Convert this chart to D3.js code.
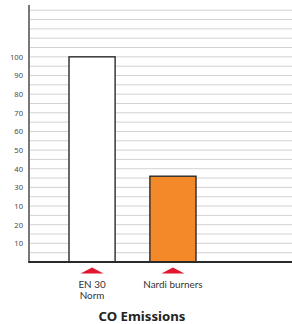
<!DOCTYPE html>
<html>
<head>
<meta charset="utf-8">
<script src="https://cdn.jsdelivr.net/npm/d3@7"></script>
<style>
  html, body { margin: 0; padding: 0; background: #fff; }
  svg { display: block; }
</style>
</head>
<body>
<svg id="chart" width="292" height="324"></svg>
<script>
// ---- data ----
const categories = ["EN 30 Norm", "Nardi burners"];
const categoryLines = [["EN 30", "Norm"], ["Nardi burners"]];
const values = [100, 36];
const barColors = ["#ffffff", "#F4892A"];
const tickValues = [100, 90, 80, 70, 60, 50, 40, 30, 20, 10, 0];
const tickLabels = ["100", "90", "80", "70", "60", "50", "40", "30", "10", "20", "10"];
const gridValues = d3.range(-5, 126, 5);
const title = "CO Emissions";

// ---- layout ----
const svg = d3.select("#chart");
const font = "'Noto Sans', 'DejaVu Sans', sans-serif";
const labelFont = "Lato, 'Noto Sans', sans-serif";
const axisX = 29, rightX = 292, baseY = 262, topY = 5;

const y = d3.scaleLinear().domain([-10, 127.8]).range([baseY, topY]);
const x = d3.scaleBand().domain(categories).range([69, 196]).paddingInner(0.43).paddingOuter(0);

// gridlines
svg.append("g").selectAll("line").data(gridValues).join("line")
  .attr("x1", axisX + 1).attr("x2", rightX)
  .attr("y1", d => y(d)).attr("y2", d => y(d))
  .attr("stroke", "#d2d2d2").attr("stroke-width", 1);

// y axis labels
const yAxis = d3.axisLeft(y).tickValues(tickValues).tickSize(0).tickPadding(0)
  .tickFormat((d, i) => tickLabels[i]);
const gy = svg.append("g").attr("transform", `translate(${axisX - 6},0)`).call(yAxis);
gy.select(".domain").remove();
gy.selectAll("text").attr("font-family", font).attr("font-size", 7.6).attr("fill", "#4a4a4a");

// bars
svg.append("g").selectAll("rect").data(values).join("rect")
  .attr("x", (d, i) => x(categories[i]))
  .attr("width", x.bandwidth())
  .attr("y", d => y(d))
  .attr("height", d => baseY - y(d))
  .attr("fill", (d, i) => barColors[i])
  .attr("stroke", "#2a2a2a").attr("stroke-width", 1.4);

// axes lines
svg.append("line").attr("x1", axisX).attr("x2", axisX).attr("y1", topY).attr("y2", baseY)
  .attr("stroke", "#555").attr("stroke-width", 1.6);
svg.append("line").attr("x1", axisX - 0.8).attr("x2", rightX).attr("y1", baseY).attr("y2", baseY)
  .attr("stroke", "#2a2a2a").attr("stroke-width", 1.8);

// red triangle markers
svg.append("g").selectAll("path").data(categories).join("path")
  .attr("d", d => {
    const cx = x(d) + x.bandwidth() / 2;
    return `M${cx - 11.5},273.5 L${cx},267.5 L${cx + 11.5},273.5 Z`;
  })
  .attr("fill", "#E2162F");

// category labels
const lbl = svg.append("g").selectAll("text").data(categories).join("text")
  .attr("x", d => x(d) + x.bandwidth() / 2)
  .attr("y", 287.5)
  .attr("text-anchor", "middle")
  .attr("font-family", labelFont).attr("font-size", 9.9).attr("fill", "#333");
lbl.each(function(d, i) {
  d3.select(this).selectAll("tspan").data(categoryLines[i]).join("tspan")
    .attr("x", x(d) + x.bandwidth() / 2)
    .attr("dy", (t, j) => j === 0 ? 0 : 11.9)
    .text(t => t);
});

// title
svg.append("text").attr("x", 142).attr("y", 321)
  .attr("text-anchor", "middle")
  .attr("font-family", font).attr("font-size", 13.2).attr("font-weight", "bold")
  .attr("fill", "#222").text(title);
</script>
</body>
</html>
